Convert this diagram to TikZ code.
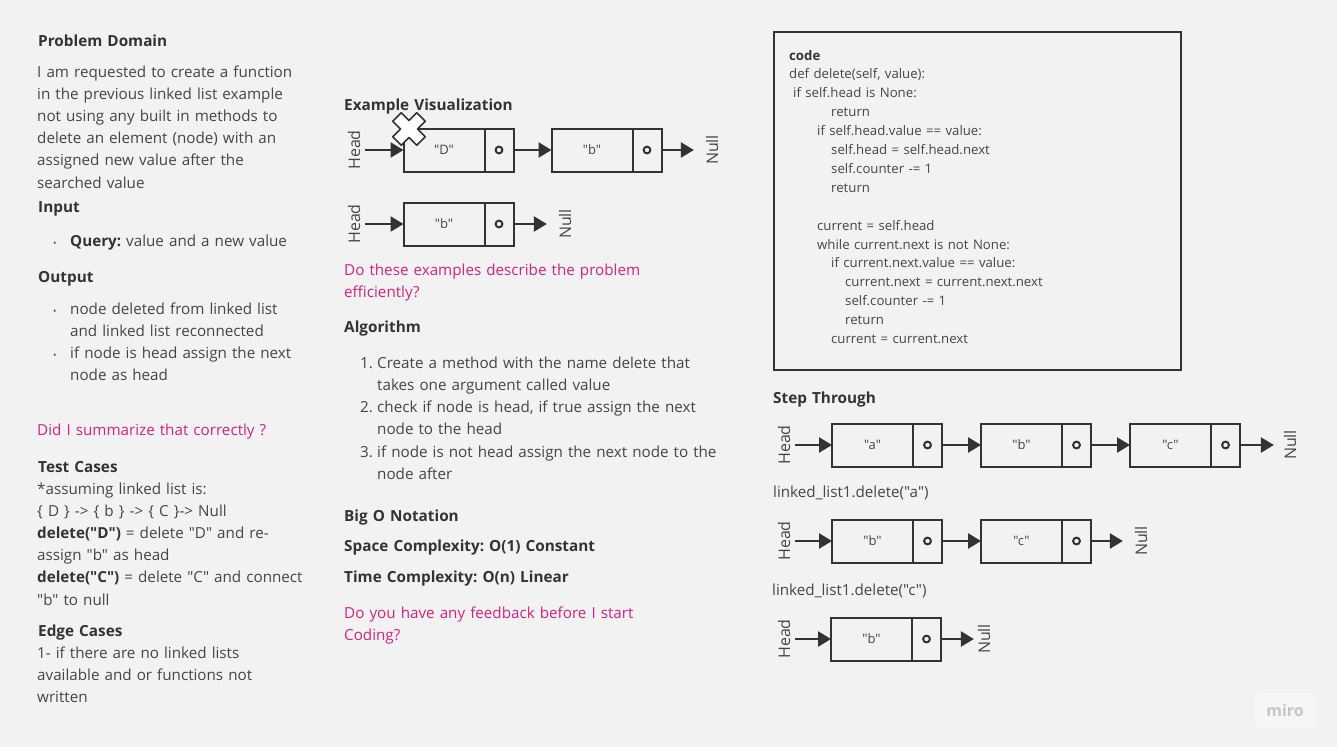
\documentclass[tikz,border=0pt]{standalone}
\usepackage{fontspec}
\newfontfamily\osans{Open Sans}
\usetikzlibrary{arrows.meta,positioning}
\definecolor{canvas}{HTML}{F2F2F2}
\definecolor{ink}{HTML}{333333}
\definecolor{textgray}{HTML}{454545}
\definecolor{askpink}{HTML}{D4237A}
\definecolor{logogray}{HTML}{C6C6C6}

\begin{document}
\osans\frenchspacing
\begin{tikzpicture}[x=1pt,y=-1pt,
  txt/.style={anchor=base west,inner sep=0pt,align=left,text width=400pt,
              font=\fontsize{15.2}{22.2}\selectfont,text=textgray},
  hd/.style={txt,font=\fontsize{15.3}{22}\selectfont\bfseries,text=ink},
  ask/.style={txt,text=askpink},
  codetxt/.style={txt,font=\fontsize{13.2}{18.9}\selectfont},
  dot/.style={txt,font=\fontsize{9}{22}\selectfont},
  cell/.style={draw=ink,line width=2pt,inner sep=0pt,outer sep=0pt,
               minimum width=81pt,minimum height=43pt,
               font=\fontsize{13}{14}\selectfont,text=textgray},
  ptr/.style={cell,minimum width=29pt,
              path picture={\draw[ink,line width=2pt]
                (path picture bounding box.center) circle (3.4pt);}},
  vlab/.style={rotate=90,inner sep=1pt,outer sep=4pt,
               font=\fontsize{16}{18}\selectfont,text=textgray},
  null/.style={vlab,outer sep=11pt},
  arr/.style={-{Triangle[length=13pt,width=15pt]},line width=2.5pt,ink}
]
\useasboundingbox (0,0) rectangle (1337,747);
\fill[canvas] (0,0) rectangle (1337,747);

% left column
\node[hd] (pdtitle) at (38,46) {Problem Domain};
\node[txt] (pdtext) at (37,77) {I am requested to create a function\\
  in the previous linked list example\\not using any built in methods to\\
  delete an element (node) with an\\assigned new value after the\\searched value};
\node[hd] (intitle) at (38,212) {Input};
\node[dot] (indot) at (53,246) {•};
\node[txt] (inquery) at (70,246) {\textbf{\color{ink}Query:} value and a new value};
\node[hd] (outtitle) at (38,282) {Output};
\node[dot] (outdot1) at (53,314) {•};
\node[txt] (out1) at (70,314) {node deleted from linked list\\and linked list reconnected};
\node[dot] (outdot2) at (53,358) {•};
\node[txt] (out2) at (70,358) {if node is head assign the next\\node as head};
\node[ask] (ask1) at (37,435) {Did I summarize that correctly ?};
\node[hd] (tctitle) at (38,472) {Test Cases};
\node[txt] (tctext) at (37,494) {*assuming linked list is:\\
  \{ D \} -> \{ b \} -> \{ C \}-> Null\\
  \textbf{\color{ink}delete("D")} = delete "D" and re-\\assign "b" as head\\
  \textbf{\color{ink}delete("C")} = delete "C" and connect\\"b" to null};
\node[hd] (ectitle) at (38,636) {Edge Cases};
\node[txt] (ectext) at (37,658) {1- if there are no linked lists\\
  available and or functions not\\written};

% middle column
\node[hd] (extitle) at (344,110) {Example Visualization};

% example before delete
\node[cell] (exd1) at (444,150) {"D"};
\node[ptr,right=0pt of exd1] (exp1) {};
\node[cell,right=38pt of exp1] (exd2) {"b"};
\node[ptr,right=0pt of exd2] (exp2) {};
\node[vlab] (exhead1) at (354,150) {Head};
\node[null] (exnull1) at (712,150) {Null};
\draw[arr] (exhead1) -- (exd1);
\draw[arr] (exp1) -- (exd2);
\draw[arr] (exp2) -- (exnull1);
\begin{scope}[shift={(409,129)},rotate=45]
  \draw[ink,line width=1.6pt,fill=white,line join=round]
    (6,17) -- (6,6) -- (17,6) -- (17,-6) -- (6,-6) -- (6,-17) -- (-6,-17)
    -- (-6,-6) -- (-17,-6) -- (-17,6) -- (-6,6) -- (-6,17) -- cycle;
\end{scope}

% example after delete
\node[cell] (exd3) at (444,224) {"b"};
\node[ptr,right=0pt of exd3] (exp3) {};
\node[vlab] (exhead2) at (354,224) {Head};
\node[null] (exnull2) at (565,224) {Null};
\draw[arr] (exhead2) -- (exd3);
\draw[arr] (exp3) -- (exnull2);

\node[ask] (ask2) at (344,275) {Do these examples describe the problem\\efficiently?};
\node[hd] (algtitle) at (344,332) {Algorithm};
\node[txt] (algn1) at (360,368) {1.};
\node[txt] (alg1) at (377,368) {Create a method with the name delete that\\takes one argument called value};
\node[txt] (algn2) at (360,412) {2.};
\node[txt] (alg2) at (377,412) {check if node is head, if true assign the next\\node to the head};
\node[txt] (algn3) at (360,457) {3.};
\node[txt] (alg3) at (377,457) {if node is not head assign the next node to the\\node after};
\node[hd] (bigo) at (344,521) {Big O Notation};
\node[hd] (space) at (344,551) {Space Complexity: O(1) Constant};
\node[hd] (time) at (344,582) {Time Complexity: O(n) Linear};
\node[ask] (ask3) at (344,618) {Do you have any feedback before I start\\Coding?};

% code box
\node[draw=ink,line width=2pt,anchor=north west,minimum width=407pt,
      minimum height=338pt] (codebox) at (773,31) {};
\node[codetxt] (code) at (789,60) {\textbf{\color{ink}code}\\
  def delete(self, value):\\
  \hspace*{4pt}if self.head is None:\\
  \hspace*{42pt}return\\
  \hspace*{28pt}if self.head.value == value:\\
  \hspace*{42pt}self.head = self.head.next\\
  \hspace*{42pt}self.counter -= 1\\
  \hspace*{42pt}return\\
  \mbox{}\\
  \hspace*{28pt}current = self.head\\
  \hspace*{28pt}while current.next is not None:\\
  \hspace*{42pt}if current.next.value == value:\\
  \hspace*{56pt}current.next = current.next.next\\
  \hspace*{56pt}self.counter -= 1\\
  \hspace*{56pt}return\\
  \hspace*{42pt}current = current.next};

% step through
\node[hd] (steptitle) at (773,403) {Step Through};

\node[cell] (sad1) at (872.5,445) {"a"};
\node[ptr,right=0pt of sad1] (sap1) {};
\node[cell,right=39pt of sap1] (sad2) {"b"};
\node[ptr,right=0pt of sad2] (sap2) {};
\node[cell,right=39pt of sap2] (sad3) {"c"};
\node[ptr,right=0pt of sad3] (sap3) {};
\node[vlab] (sahead) at (784,445) {Head};
\node[null,outer sep=9pt] (sanull) at (1290,445) {Null};
\draw[arr] (sahead) -- (sad1);
\draw[arr] (sap1) -- (sad2);
\draw[arr] (sap2) -- (sad3);
\draw[arr] (sap3) -- (sanull);

\node[txt] (calla) at (773,497) {linked\_list1.delete("a")};

\node[cell] (sbd1) at (872.5,541) {"b"};
\node[ptr,right=0pt of sbd1] (sbp1) {};
\node[cell,right=39pt of sbp1] (sbd2) {"c"};
\node[ptr,right=0pt of sbd2] (sbp2) {};
\node[vlab] (sbhead) at (784,541) {Head};
\node[null] (sbnull) at (1141,541) {Null};
\draw[arr] (sbhead) -- (sbd1);
\draw[arr] (sbp1) -- (sbd2);
\draw[arr] (sbp2) -- (sbnull);

\node[txt] (callc) at (772,595) {linked\_list1.delete("c")};

\node[cell] (scd1) at (871.5,639) {"b"};
\node[ptr,right=0pt of scd1] (scp1) {};
\node[vlab] (schead) at (784,639) {Head};
\node[null,outer sep=3pt] (scnull) at (984,639) {Null};
\draw[arr] (schead) -- (scd1);
\draw[arr] (scp1) -- (scnull);

% logo
\node[fill=white!30!canvas,rounded corners=3pt,minimum width=62pt,
      minimum height=34pt,font=\fontsize{16}{17}\selectfont\bfseries,
      text=logogray] (logo) at (1285,710) {miro};
\end{tikzpicture}
\end{document}
